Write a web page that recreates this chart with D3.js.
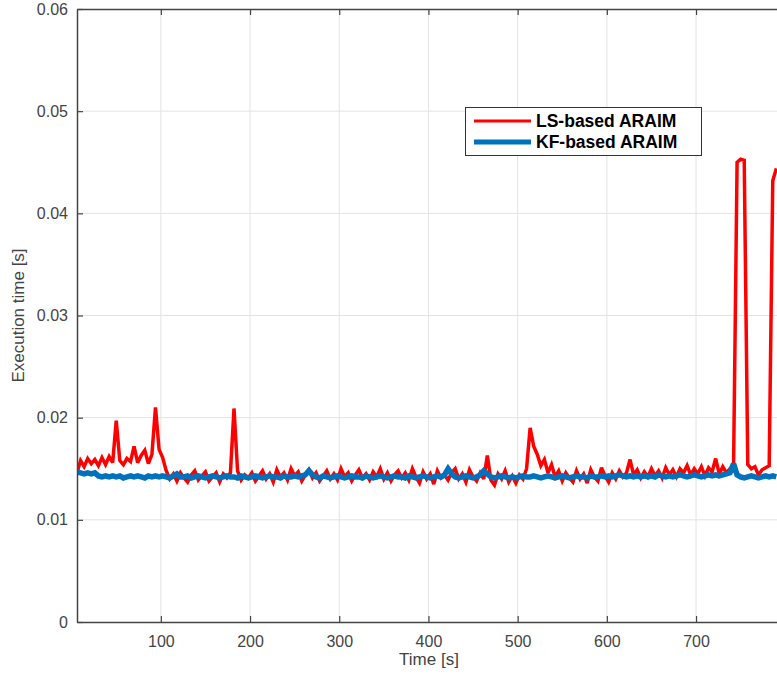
<!DOCTYPE html>
<html>
<head>
<meta charset="utf-8">
<script src="https://cdn.jsdelivr.net/npm/d3@7"></script>
<style>
  html, body { margin: 0; padding: 0; background: #fff; }
  svg { display: block; }
</style>
</head>
<body>
<svg id="chart" width="777" height="675"></svg>
<script>
// Time samples (s)
const time = d3.range(6, 791, 4);

// Execution time values in milliseconds (converted to seconds when plotted)
const lsBased = [
  14.6,15.8,15.2,16.0,15.5,15.9,15.3,16.1,15.4,16.2,
  15.6,19.7,15.8,15.4,16.0,15.7,17.2,15.6,16.3,16.8,
  15.5,16.4,21.0,16.9,16.1,14.8,14.0,14.5,13.8,14.6,
  14.1,13.7,14.4,14.8,13.9,14.3,14.7,13.8,14.2,14.6,
  13.7,14.5,14.1,14.6,20.9,14.8,13.9,14.4,14.1,14.6,
  13.8,14.3,14.8,14.0,14.5,13.7,14.9,14.2,14.6,13.9,
  15.0,14.3,14.7,13.8,14.4,14.9,14.1,14.6,13.8,14.3,
  14.8,14.0,14.5,13.9,15.0,14.2,14.6,13.8,14.4,14.9,
  14.1,14.5,13.9,14.7,14.2,15.0,14.0,14.6,13.8,14.4,
  14.8,14.1,14.6,13.9,15.0,14.2,13.6,14.7,14.0,14.5,
  13.5,14.8,14.1,14.4,13.9,14.6,15.0,14.0,14.5,13.7,
  14.9,14.2,13.8,14.6,14.0,16.3,13.9,13.4,14.5,14.0,
  14.8,13.7,14.3,13.6,14.4,14.0,15.0,19.0,17.2,16.4,
  15.3,15.9,14.6,15.4,14.2,14.8,13.8,14.6,14.1,13.7,
  14.8,14.0,14.5,13.6,14.9,14.2,13.8,15.1,14.3,13.7,
  14.6,14.0,14.8,14.2,14.6,15.9,14.4,14.9,14.1,14.7,
  14.2,15.0,14.3,14.8,14.1,15.1,14.4,14.9,14.2,15.0,
  14.6,15.3,14.4,15.0,14.5,15.2,14.3,15.1,14.7,16.0,
  14.5,15.2,14.6,15.0,14.8,45.0,45.3,45.2,15.4,15.0,
  15.2,14.4,14.9,15.1,15.3,43.2,44.4
];

const kfBased = [
  14.7,14.6,14.5,14.6,14.5,14.6,14.3,14.2,14.3,14.2,
  14.3,14.2,14.3,14.1,14.2,14.3,14.2,14.3,14.2,14.1,
  14.3,14.2,14.3,14.2,14.3,14.2,14.1,14.3,14.5,14.2,
  14.2,14.3,14.1,14.2,14.3,14.2,14.1,14.2,14.3,14.2,
  14.1,14.2,14.3,14.2,14.2,14.1,14.3,14.2,14.1,14.2,
  14.3,14.2,14.1,14.2,14.3,14.2,14.2,14.1,14.3,14.2,
  14.2,14.3,14.2,14.3,14.4,14.8,14.4,14.2,14.1,14.3,
  14.2,14.1,14.2,14.3,14.2,14.1,14.2,14.3,14.2,14.2,
  14.1,14.3,14.2,14.1,14.2,14.3,14.2,14.1,14.2,14.3,
  14.2,14.2,14.1,14.3,14.2,14.1,14.2,14.3,14.2,14.1,
  14.2,14.3,14.2,14.4,15.0,14.5,14.2,14.1,14.2,14.3,
  14.2,14.1,14.2,14.4,14.8,14.5,14.2,14.1,14.2,14.3,
  14.2,14.1,14.2,14.1,14.2,14.3,14.2,14.2,14.3,14.2,
  14.1,14.2,14.3,14.2,14.1,14.2,14.3,14.2,14.1,14.2,
  14.3,14.2,14.2,14.1,14.3,14.2,14.2,14.3,14.2,14.3,
  14.2,14.3,14.4,14.3,14.2,14.3,14.2,14.3,14.2,14.3,
  14.2,14.3,14.2,14.4,14.3,14.2,14.3,14.2,14.3,14.4,
  14.3,14.2,14.3,14.4,14.3,14.2,14.3,14.4,14.3,14.4,
  14.3,14.4,14.5,14.6,15.5,14.4,14.2,14.1,14.2,14.3,
  14.2,14.1,14.2,14.3,14.2,14.3,14.2
];

const xTicks = [100, 200, 300, 400, 500, 600, 700];
const yTicks = [0, 0.01, 0.02, 0.03, 0.04, 0.05, 0.06];
const seriesNames = ["LS-based ARAIM", "KF-based ARAIM"];
const seriesColors = ["#ff0000", "#0072bd"];

(function () {
const svg = d3.select("#chart");
const mLeft = 77, mTop = 9, mBottom = 622;
const xRight = mLeft + (800 - 6) * 0.892;

const x = d3.scaleLinear().domain([6, 800]).range([mLeft, xRight]);
const y = d3.scaleLinear().domain([0, 0.06]).range([mBottom, mTop]);

svg.append("defs").append("clipPath").attr("id", "plotclip")
  .append("rect").attr("x", mLeft).attr("y", mTop)
  .attr("width", xRight - mLeft).attr("height", mBottom - mTop);

// Grid
const grid = svg.append("g");
grid.selectAll("line.vx").data(xTicks).join("line")
  .attr("x1", d => x(d)).attr("x2", d => x(d))
  .attr("y1", mTop).attr("y2", mBottom)
  .attr("stroke", "#e3e3e3").attr("stroke-width", 1);
grid.selectAll("line.hy").data(yTicks.filter(d => d > 0 && d < 0.06)).join("line")
  .attr("x1", mLeft).attr("x2", xRight)
  .attr("y1", d => y(d)).attr("y2", d => y(d))
  .attr("stroke", "#e3e3e3").attr("stroke-width", 1);

// Data lines
const plot = svg.append("g").attr("clip-path", "url(#plotclip)");
const line = d3.line().x((d, i) => x(time[i])).y(d => y(d / 1000));

plot.append("path").datum(lsBased)
  .attr("d", line).attr("fill", "none")
  .attr("stroke", seriesColors[0]).attr("stroke-width", 3.5)
  .attr("stroke-linejoin", "miter").attr("stroke-miterlimit", 3);
plot.append("path").datum(kfBased)
  .attr("d", line).attr("fill", "none")
  .attr("stroke", seriesColors[1]).attr("stroke-width", 5.5)
  .attr("stroke-linejoin", "miter").attr("stroke-miterlimit", 3);

// Axes
const axisColor = "#444444";
const fontFam = "'Liberation Sans', Arial, Helvetica, sans-serif";

const xAxis = svg.append("g").attr("transform", `translate(0,${mBottom})`)
  .call(d3.axisBottom(x).tickValues(xTicks).tickSizeInner(-6).tickSizeOuter(0).tickPadding(14).tickFormat(d3.format("d")));
const xAxisTop = svg.append("g").attr("transform", `translate(0,${mTop})`)
  .call(d3.axisTop(x).tickValues(xTicks).tickSizeInner(-6).tickSizeOuter(0).tickFormat(""));
const yAxis = svg.append("g").attr("transform", `translate(${mLeft},0)`)
  .call(d3.axisLeft(y).tickValues(yTicks).tickSizeInner(-6).tickSizeOuter(0).tickPadding(9)
    .tickFormat(d => d === 0 ? "0" : d3.format(".2f")(d)));

[xAxis, xAxisTop, yAxis].forEach(g => {
  g.select(".domain").attr("stroke", axisColor).attr("stroke-width", 1.5);
  g.selectAll(".tick line").attr("stroke", axisColor).attr("stroke-width", 1.2);
  g.selectAll(".tick text").attr("fill", axisColor)
    .attr("font-family", fontFam).attr("font-size", 16);
});

// Axis labels
svg.append("text").attr("x", 429).attr("y", 665)
  .attr("text-anchor", "middle").attr("fill", axisColor)
  .attr("font-family", fontFam).attr("font-size", 17).text("Time [s]");
svg.append("text")
  .attr("transform", `translate(24,${(mTop + mBottom) / 2}) rotate(-90)`)
  .attr("text-anchor", "middle").attr("fill", axisColor)
  .attr("font-family", fontFam).attr("font-size", 17).text("Execution time [s]");

// Legend
const lg = svg.append("g");
lg.append("rect").attr("x", 465.5).attr("y", 107.5).attr("width", 236).attr("height", 48)
  .attr("fill", "#fff").attr("stroke", "#333").attr("stroke-width", 1);
seriesNames.forEach((name, i) => {
  const yy = 121 + i * 21;
  lg.append("line").attr("x1", 474).attr("x2", 531).attr("y1", yy).attr("y2", yy)
    .attr("stroke", seriesColors[i]).attr("stroke-width", i === 0 ? 3 : 5);
  lg.append("text").attr("x", 536).attr("y", yy + 6)
    .attr("font-family", fontFam).attr("font-weight", "bold").attr("font-size", 17.5)
    .attr("fill", "#000").text(name);
});
})();
</script>
</body>
</html>
